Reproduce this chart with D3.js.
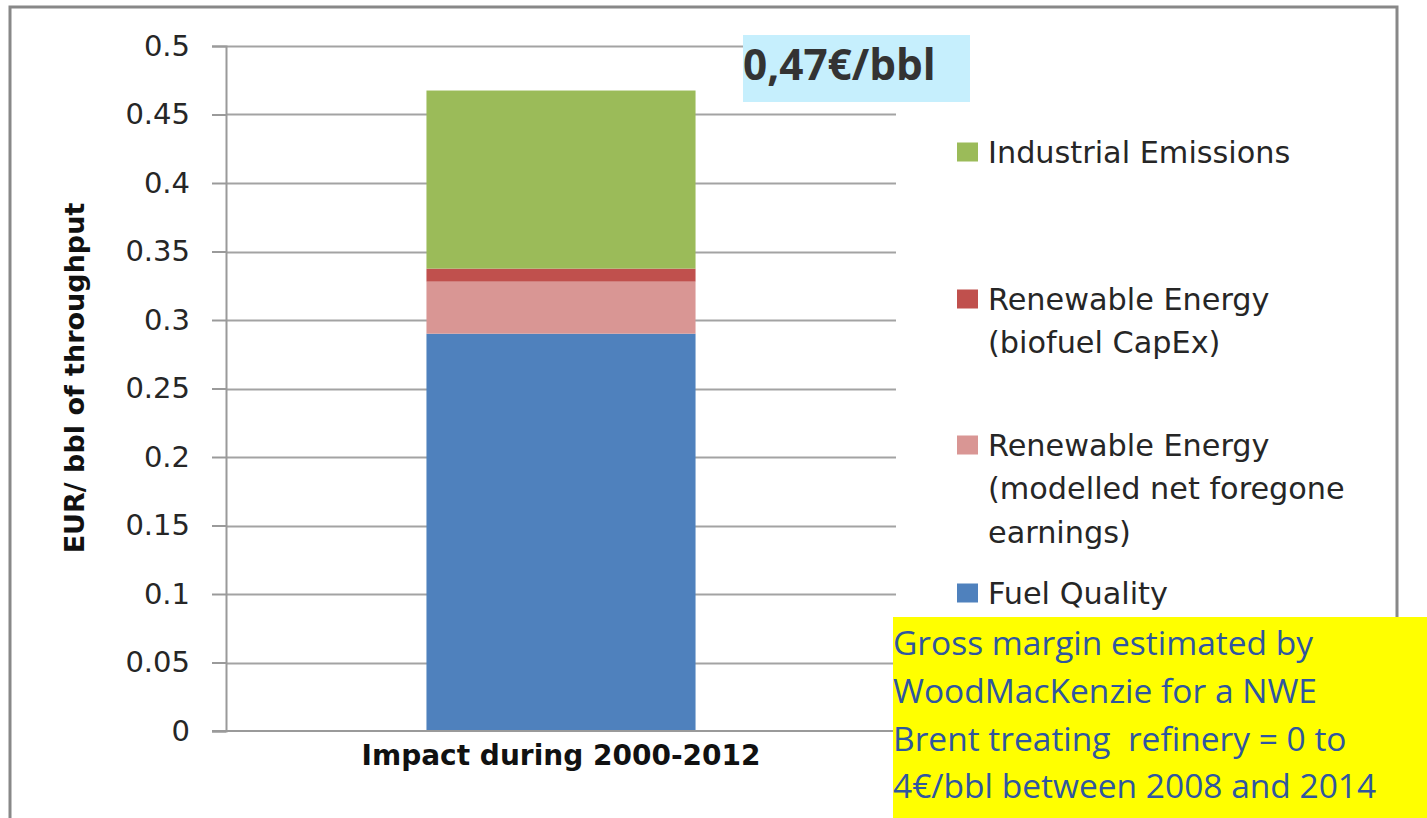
<!DOCTYPE html>
<html>
<head>
<meta charset="utf-8">
<script src="https://cdn.jsdelivr.net/npm/d3@7"></script>
<style>
  html, body { margin: 0; padding: 0; background: #ffffff; }
  svg { display: block; }
</style>
</head>
<body>
<svg id="chart" width="1427" height="818"></svg>
<script>
// ---- data ----
const categories = ["Impact during 2000-2012"];
const seriesNames = [
  "Fuel Quality",
  "Renewable Energy (modelled net foregone earnings)",
  "Renewable Energy (biofuel CapEx)",
  "Industrial Emissions"
];
const fuelQuality = [0.290];
const renewableModelled = [0.038];
const renewableCapex = [0.0095];
const industrialEmissions = [0.130];
const seriesColors = ["#4f81bd", "#d99694", "#c0504d", "#9bbb59"];
const yTickValues = [0, 0.05, 0.1, 0.15, 0.2, 0.25, 0.3, 0.35, 0.4, 0.45, 0.5];
const yTickLabels = ["0", "0.05", "0.1", "0.15", "0.2", "0.25", "0.3", "0.35", "0.4", "0.45", "0.5"];
const yAxisTitle = "EUR/ bbl of throughput";
const legendItems = [
  { series: 3, lines: ["Industrial Emissions"] },
  { series: 2, lines: ["Renewable Energy", "(biofuel CapEx)"] },
  { series: 1, lines: ["Renewable Energy", "(modelled net foregone", "earnings)"] },
  { series: 0, lines: ["Fuel Quality"] }
];
const totalLabel = "0,47€/bbl";
const noteLines = [
  "Gross margin estimated by",
  "WoodMacKenzie for a NWE",
  "Brent treating  refinery = 0 to",
  "4€/bbl between 2008 and 2014"
];

// ---- build table ----
const seriesValues = [fuelQuality, renewableModelled, renewableCapex, industrialEmissions];
const table = categories.map((c, i) => {
  const row = { category: c };
  seriesNames.forEach((s, k) => { row[s] = seriesValues[k][i]; });
  return row;
});
const stacked = d3.stack().keys(seriesNames)(table);

// ---- layout ----
const svg = d3.select("#chart");
const plot = { left: 226, right: 896, top: 46, bottom: 731 };

const x = d3.scaleBand().domain(categories)
  .range([plot.left, plot.right]).paddingInner(0).paddingOuter(0.745);
const y = d3.scaleLinear().domain([0, 0.5]).range([plot.bottom, plot.top]);

// outer frame
const frame = svg.append("g").attr("stroke", "#888888").attr("stroke-width", 3).attr("fill", "none");
frame.append("path").attr("d", "M10,818 L10,7 L1397,7 L1397,640");

// gridlines
svg.append("g")
  .selectAll("line").data(yTickValues.filter(v => v > 0)).join("line")
  .attr("x1", plot.left).attr("x2", plot.right)
  .attr("y1", d => Math.round(y(d)) + 0.5).attr("y2", d => Math.round(y(d)) + 0.5)
  .attr("stroke", "#a3a3a3").attr("stroke-width", 2);

// bars
svg.append("g").selectAll("g").data(stacked).join("g")
  .attr("fill", (d, i) => seriesColors[i])
  .selectAll("rect").data(d => d).join("rect")
  .attr("x", d => x(d.data.category))
  .attr("width", x.bandwidth())
  .attr("y", d => y(d[1]))
  .attr("height", d => y(d[0]) - y(d[1]));

// y axis
const yAxis = d3.axisLeft(y).tickValues(yTickValues)
  .tickFormat((d, i) => yTickLabels[i]).tickSize(14).tickPadding(22);
const gy = svg.append("g").attr("transform", `translate(${plot.left},0)`).call(yAxis);
gy.select(".domain").attr("stroke", "#9a9a9a").attr("stroke-width", 2);
gy.selectAll(".tick line").attr("stroke", "#9a9a9a").attr("stroke-width", 2);
gy.selectAll(".tick text")
  .attr("font-family", "DejaVu Sans").attr("font-size", 29).attr("fill", "#262626");

// x axis
const xAxis = d3.axisBottom(x).tickSize(0).tickPadding(14);
const gx = svg.append("g").attr("transform", `translate(0,${plot.bottom})`).call(xAxis);
gx.select(".domain").attr("stroke", "#9a9a9a").attr("stroke-width", 2)
  .attr("d", `M${plot.left - 14},0H${plot.right}`);
gx.selectAll(".tick text")
  .attr("font-family", "DejaVu Sans").attr("font-weight", "bold")
  .attr("font-size", 28).attr("fill", "#111111");

// y title
svg.append("text")
  .attr("transform", `translate(84,378) rotate(-90)`)
  .attr("text-anchor", "middle")
  .attr("font-family", "DejaVu Sans").attr("font-weight", "bold")
  .attr("font-size", 27).attr("fill", "#111111")
  .text(yAxisTitle);

// legend
const legendY = [152, 299, 445, 593];
const lg = svg.append("g");
legendItems.forEach((item, i) => {
  const cy = legendY[i];
  lg.append("rect").attr("x", 957).attr("y", cy - 9.5).attr("width", 21).attr("height", 19)
    .attr("fill", seriesColors[item.series]);
  const t = lg.append("text").attr("font-family", "DejaVu Sans").attr("font-size", 30.3)
    .attr("fill", "#262626");
  item.lines.forEach((ln, j) => {
    t.append("tspan").attr("x", 988).attr("y", cy + 10.5 + j * 43.5).text(ln);
  });
});

// total annotation box
svg.append("rect").attr("x", 743).attr("y", 35).attr("width", 227).attr("height", 67)
  .attr("fill", "#c6effd");
svg.append("text").attr("x", 743).attr("y", 80)
  .attr("font-family", "Open Sans").attr("font-weight", "bold")
  .attr("font-size", 42.3).attr("fill", "#333333")
  .text(totalLabel);

// yellow note box
svg.append("rect").attr("x", 893).attr("y", 617).attr("width", 534).attr("height", 201)
  .attr("fill", "#ffff00");
const nt = svg.append("text").attr("font-family", "Open Sans").attr("font-size", 33.5)
  .attr("fill", "#2f56a0");
noteLines.forEach((ln, j) => {
  nt.append("tspan").attr("x", 893).attr("y", 655 + j * 47.8).attr("xml:space", "preserve").text(ln);
});
</script>
</body>
</html>
